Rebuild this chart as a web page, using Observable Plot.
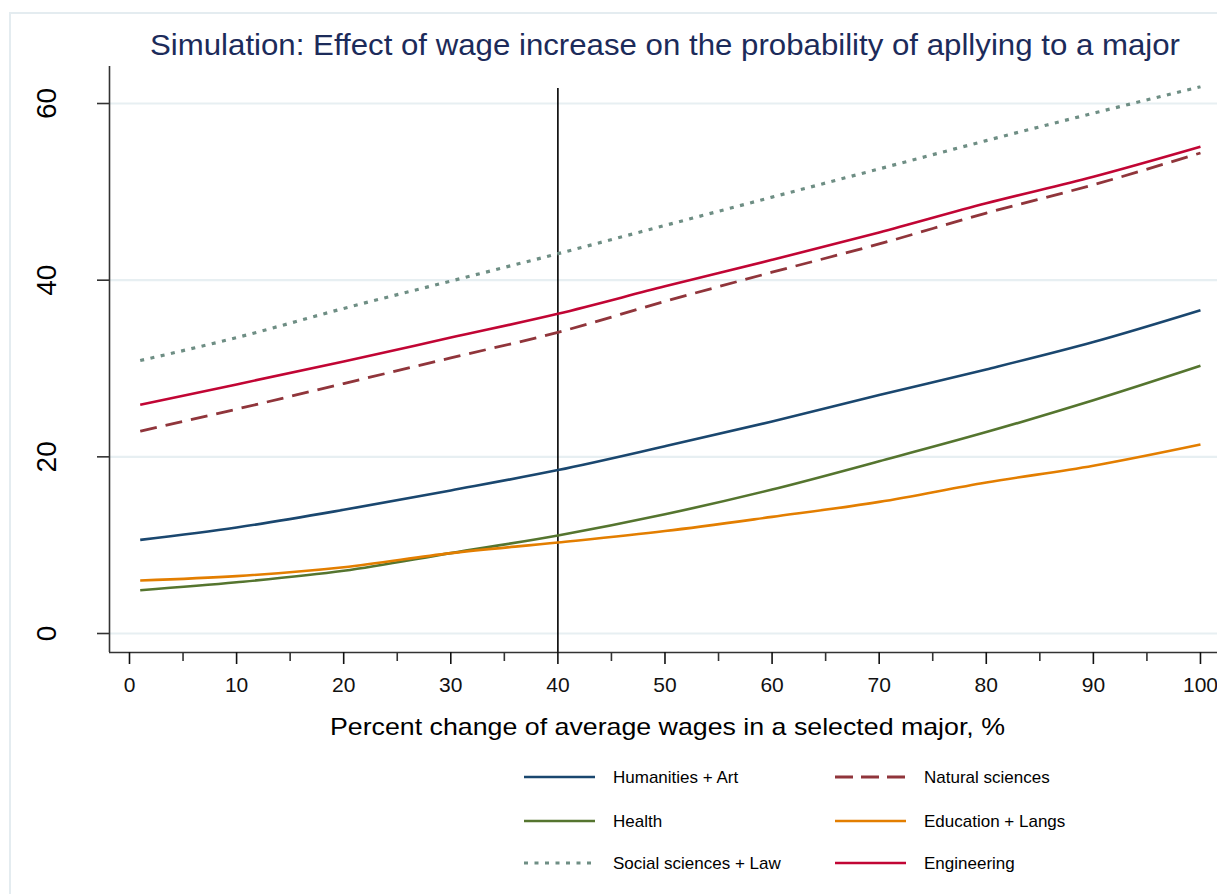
<!DOCTYPE html>
<html>
<head>
<meta charset="utf-8">
<script src="https://cdn.jsdelivr.net/npm/d3@7"></script>
<script src="https://cdn.jsdelivr.net/npm/@observablehq/plot@0.6"></script>
<style>
  html, body { margin: 0; padding: 0; background: #fff; overflow: hidden; }
  #chart { position: relative; width: 1217px; height: 894px; }
</style>
</head>
<body>
<div id="chart"></div>
<script>
// ---- data ----
const xs = [1, 10, 20, 30, 40, 50, 60, 70, 80, 90, 100];
const humanities  = [10.6, 12.0, 14.0, 16.2, 18.5, 21.2, 24.0, 27.0, 29.9, 33.0, 36.6];
const natural     = [22.9, 25.4, 28.3, 31.2, 34.1, 37.6, 40.9, 44.1, 47.6, 50.8, 54.4];
const health      = [4.9, 5.8, 7.1, 9.1, 11.1, 13.5, 16.3, 19.5, 22.8, 26.4, 30.3];
const education   = [6.0, 6.5, 7.5, 9.1, 10.3, 11.6, 13.2, 14.9, 17.1, 19.0, 21.4];
const social      = [30.9, 33.5, 36.8, 39.9, 43.0, 46.2, 49.4, 52.6, 55.8, 58.9, 61.9];
const engineering = [25.9, 28.2, 30.8, 33.5, 36.2, 39.3, 42.3, 45.4, 48.7, 51.7, 55.1];

const seriesNames = ["Humanities + Art", "Natural sciences", "Health", "Education + Langs", "Social sciences + Law", "Engineering"];
const seriesValues = [humanities, natural, health, education, social, engineering];

const yTicks = [0, 20, 40, 60];
const xMajorTicks = [0, 10, 20, 30, 40, 50, 60, 70, 80, 90, 100];
const xMinorTicks = [5, 15, 25, 35, 45, 55, 65, 75, 85, 95];
const vlineX = [40];
const vlineTop = 61.7;

const titleText = "Simulation: Effect of wage increase on the probability of apllying to a major";
const xLabelText = "Percent change of average wages in a selected major, %";

// ---- styles ----
const seriesColors = ["#1a476f", "#90353b", "#55752f", "#e37e00", "#6e8e84", "#c10534"];
const seriesDash = [null, "17,9", null, null, "4,6.5", null];
const seriesWidth = [2.6, 2.8, 2.6, 2.6, 3.2, 2.6];
const gridColor = "#e7eff2";
const font = "'Liberation Sans', Arial, sans-serif";

const table = seriesNames.flatMap((s, i) => xs.map((x, j) => ({series: s, x, y: seriesValues[i][j]})));

const xDomain = [-1.867, 101.59];
const yDomain = [-2.15, 64.19];

const lineMarks = seriesNames.map((s, i) =>
  Plot.line(table.filter(d => d.series === s), {
    x: "x", y: "y",
    stroke: seriesColors[i],
    strokeWidth: seriesWidth[i],
    strokeDasharray: seriesDash[i] || undefined,
    strokeLinecap: "butt",
    curve: "monotone-x"
  })
);

const plot = Plot.plot({
  width: 1217,
  height: 894,
  marginTop: 66,
  marginBottom: 242,
  marginLeft: 109,
  marginRight: 0,
  style: {fontFamily: font, background: "transparent", overflow: "visible"},
  x: {domain: xDomain},
  y: {domain: yDomain},
  marks: [
    Plot.ruleY(yTicks, {stroke: gridColor, strokeWidth: 2.2}),
    Plot.ruleX(vlineX, {y1: () => vlineTop, y2: () => yDomain[0], stroke: "#000", strokeWidth: 1.6}),
    ...lineMarks,
    Plot.ruleX([xDomain[0]], {stroke: "#333", strokeWidth: 1.6}),
    Plot.ruleY([yDomain[0]], {stroke: "#333", strokeWidth: 1.6}),
    Plot.axisY(yTicks, {tickSize: 12, tickFormat: () => "", label: null, color: "#333", strokeWidth: 1.6}),
    Plot.text(yTicks, {y: d => d, text: d => String(d), frameAnchor: "left", dx: -62, rotate: -90, textAnchor: "middle", lineAnchor: "middle", fontSize: 28, fill: "#000"}),
    Plot.axisX(xMajorTicks, {tickSize: 12, tickPadding: 13, fontSize: 21, label: null, color: "#111", strokeWidth: 1.6}),
    Plot.axisX(xMinorTicks, {tickSize: 9, tickFormat: () => "", label: null, color: "#333", strokeWidth: 1.6})
  ]
});

document.getElementById("chart").appendChild(plot);
const svg = d3.select(plot);

// graph region border
svg.insert("rect", ":first-child")
  .attr("x", 10).attr("y", 13).attr("width", 1400).attr("height", 1000)
  .attr("fill", "#fff").attr("stroke", "#e4ecf0").attr("stroke-width", 2);

// title
svg.append("text")
  .attr("x", 150).attr("y", 55)
  .attr("text-anchor", "start")
  .attr("font-family", font).attr("font-size", 29.5)
  .attr("fill", "#1c2b5a")
  .attr("textLength", 1030).attr("lengthAdjust", "spacingAndGlyphs")
  .text(titleText);

// x-axis title
svg.append("text")
  .attr("x", 330).attr("y", 735)
  .attr("text-anchor", "start")
  .attr("font-family", font).attr("font-size", 24)
  .attr("fill", "#000")
  .attr("textLength", 675).attr("lengthAdjust", "spacingAndGlyphs")
  .text(xLabelText);

// legend (two columns, three rows)
const legendCols = [524, 835];
const legendRows = [777, 821, 863];
const lg = svg.append("g").attr("font-family", font).attr("font-size", 17).attr("text-anchor", "start");
seriesNames.forEach((s, i) => {
  const cx = legendCols[i % 2];
  const cy = legendRows[Math.floor(i / 2)];
  lg.append("line")
    .attr("x1", cx).attr("x2", cx + 71).attr("y1", cy).attr("y2", cy)
    .attr("stroke", seriesColors[i]).attr("stroke-width", seriesWidth[i])
    .attr("stroke-dasharray", seriesDash[i] ? (i === 1 ? "18,8" : "4,6.5") : null);
  lg.append("text")
    .attr("x", cx + 89).attr("y", cy).attr("dy", "0.36em")
    .attr("text-anchor", "start")
    .attr("fill", "#000")
    .text(s);
});
</script>
</body>
</html>
